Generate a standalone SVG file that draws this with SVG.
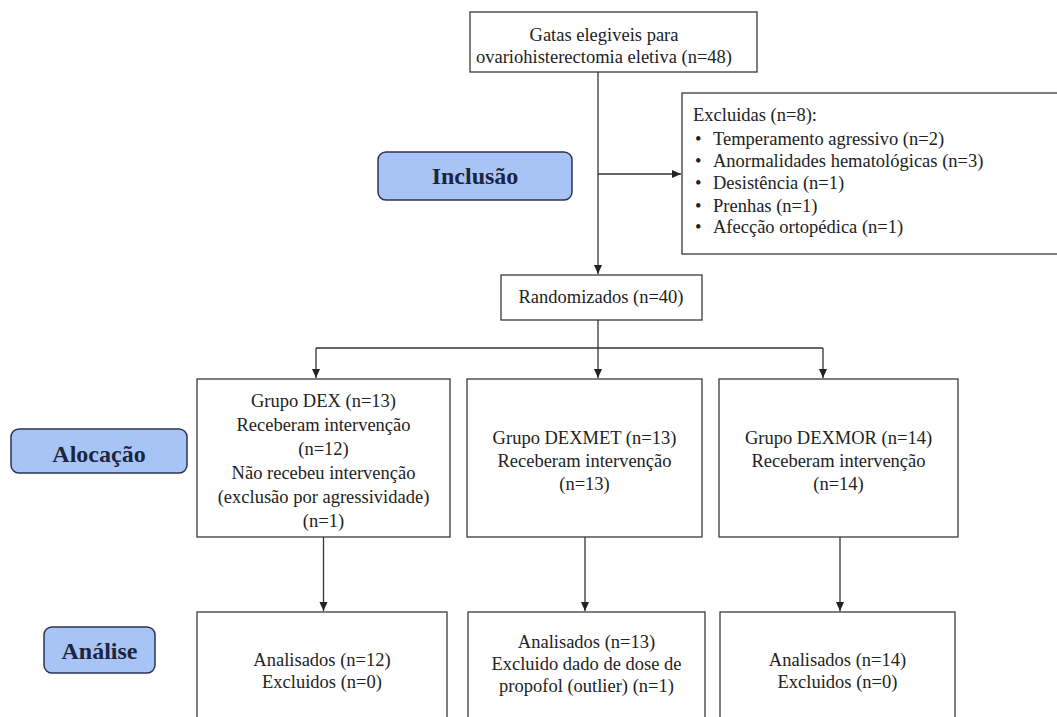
<svg xmlns="http://www.w3.org/2000/svg" width="1057" height="717" viewBox="0 0 1057 717">
<style>
.box{fill:#fff;stroke:#3a3a3a;stroke-width:1.3}
.lbl{fill:#a8c4f6;stroke:#2b3350;stroke-width:1.5}
.t{font-family:"Liberation Serif","Times New Roman",serif;font-size:18.5px;fill:#222}
.c{text-anchor:middle}
.b{font-family:"Liberation Serif","Times New Roman",serif;font-size:24px;font-weight:bold;fill:#1c2540;text-anchor:middle}
.ln{stroke:#333;stroke-width:1.3;fill:none}
</style>
<defs>
<marker id="ah" markerWidth="10" markerHeight="10" refX="9" refY="5" orient="auto" markerUnits="userSpaceOnUse">
<path d="M0,1 L9,5 L0,9 Z" fill="#222"/>
</marker>
</defs>
<g id="connectors">
<path class="ln" d="M598,72 V274" marker-end="url(#ah)"/>
<path class="ln" d="M598,174 H681" marker-end="url(#ah)"/>
<path class="ln" d="M598,320 V378" marker-end="url(#ah)"/>
<path class="ln" d="M316,348 H823"/>
<path class="ln" d="M316,348 V378" marker-end="url(#ah)"/>
<path class="ln" d="M823,348 V378" marker-end="url(#ah)"/>
<path class="ln" d="M323.5,537 V611" marker-end="url(#ah)"/>
<path class="ln" d="M585,537 V611" marker-end="url(#ah)"/>
<path class="ln" d="M840,537 V611" marker-end="url(#ah)"/>
</g>
<g id="elegiveis">
<rect class="box" x="470" y="12" width="287" height="60"/>
<text class="t c" x="604" y="41">Gatas elegiveis para</text>
<text class="t c" x="604" y="63">ovariohisterectomia eletiva (n=48)</text>
</g>
<g id="excluidas">
<rect class="box" x="682" y="93" width="390" height="161"/>
<text class="t" x="693" y="121">Excluidas (n=8):</text>
<text class="t" x="695" y="145">•</text><text class="t" x="713" y="145">Temperamento agressivo (n=2)</text>
<text class="t" x="695" y="167">•</text><text class="t" x="713" y="167">Anormalidades hematológicas (n=3)</text>
<text class="t" x="695" y="189">•</text><text class="t" x="713" y="189">Desistência (n=1)</text>
<text class="t" x="695" y="212">•</text><text class="t" x="713" y="212">Prenhas (n=1)</text>
<text class="t" x="695" y="233">•</text><text class="t" x="713" y="233">Afecção ortopédica (n=1)</text>
</g>
<g id="inclusao">
<rect class="lbl" x="378" y="152" width="194" height="48" rx="8"/>
<text class="b" x="475" y="184">Inclusão</text>
</g>
<g id="randomizados">
<rect class="box" x="501" y="275" width="201" height="45"/>
<text class="t c" x="601" y="303">Randomizados (n=40)</text>
</g>
<g id="alocacao">
<rect class="lbl" x="11" y="429" width="176" height="44" rx="8"/>
<text class="b" x="99" y="462">Alocação</text>
</g>
<g id="dex">
<rect class="box" x="197" y="379" width="253" height="158"/>
<text class="t c" x="323.5" y="407">Grupo DEX (n=13)</text>
<text class="t c" x="323.5" y="431">Receberam intervenção</text>
<text class="t c" x="323.5" y="455">(n=12)</text>
<text class="t c" x="323.5" y="479">Não recebeu intervenção</text>
<text class="t c" x="323.5" y="503">(exclusão por agressividade)</text>
<text class="t c" x="323.5" y="527">(n=1)</text>
</g>
<g id="dexmet">
<rect class="box" x="467" y="379" width="235" height="158"/>
<text class="t c" x="584.5" y="444">Grupo DEXMET (n=13)</text>
<text class="t c" x="584.5" y="467">Receberam intervenção</text>
<text class="t c" x="584.5" y="490">(n=13)</text>
</g>
<g id="dexmor">
<rect class="box" x="719" y="379" width="239" height="158"/>
<text class="t c" x="838.5" y="444">Grupo DEXMOR (n=14)</text>
<text class="t c" x="838.5" y="467">Receberam intervenção</text>
<text class="t c" x="838.5" y="490">(n=14)</text>
</g>
<g id="analise">
<rect class="lbl" x="44" y="627" width="111" height="46" rx="8"/>
<text class="b" x="99.5" y="659">Análise</text>
</g>
<g id="an-dex">
<rect class="box" x="197" y="612" width="250" height="130"/>
<text class="t c" x="322" y="666">Analisados (n=12)</text>
<text class="t c" x="322" y="688">Excluidos (n=0)</text>
</g>
<g id="an-dexmet">
<rect class="box" x="468" y="612" width="237" height="130"/>
<text class="t c" x="586.5" y="648">Analisados (n=13)</text>
<text class="t c" x="586.5" y="670">Excluido dado de dose de</text>
<text class="t c" x="586.5" y="692">propofol (outlier) (n=1)</text>
</g>
<g id="an-dexmor">
<rect class="box" x="720" y="612" width="235" height="130"/>
<text class="t c" x="837.5" y="666">Analisados (n=14)</text>
<text class="t c" x="837.5" y="688">Excluidos (n=0)</text>
</g>
</svg>
